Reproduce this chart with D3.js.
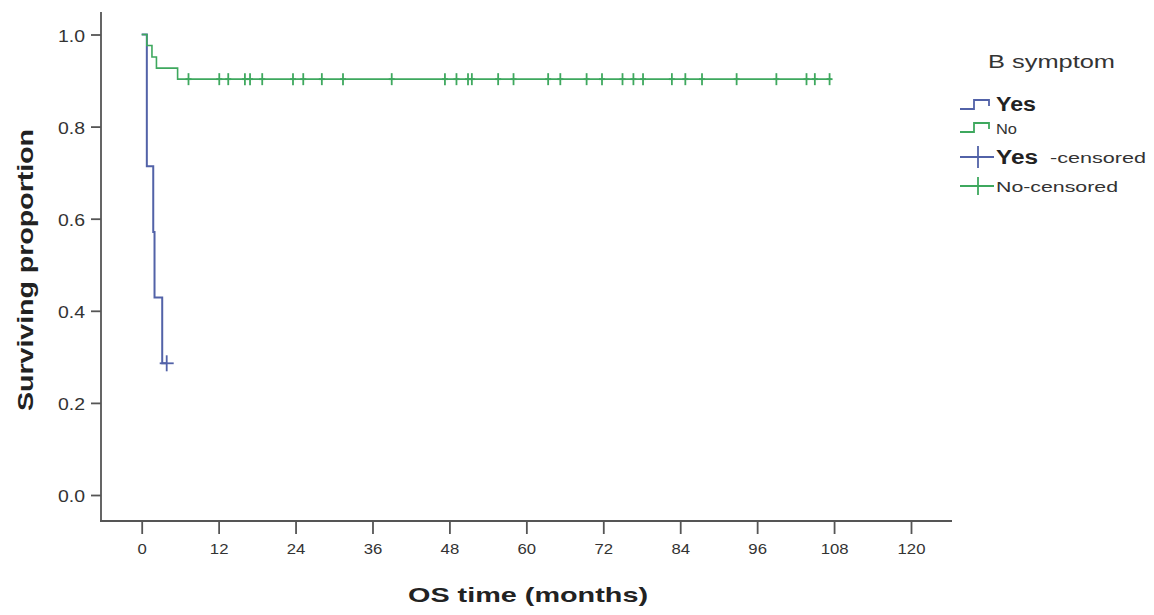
<!DOCTYPE html>
<html>
<head>
<meta charset="utf-8">
<script src="https://cdn.jsdelivr.net/npm/d3@7/dist/d3.min.js"></script>
<style>
  html, body { margin: 0; padding: 0; background: #fff; }
  svg { display: block; font-family: "Liberation Sans", Arial, sans-serif; }
</style>
</head>
<body>
<svg id="chart" width="1154" height="615"></svg>
<script>
// ---------- data ----------
const timeTicks = [0, 12, 24, 36, 48, 60, 72, 84, 96, 108, 120];
const propTicks = [0.0, 0.2, 0.4, 0.6, 0.8, 1.0];

// B symptom = Yes
const yesTimes = [0, 0.8, 1.8, 2.0, 3.2];
const yesSurv  = [1.0, 0.714, 0.571, 0.429, 0.286];
const yesEnd = 3.9;
const yesCensored = [3.9];

// B symptom = No
const noTimes = [0, 0.8, 1.6, 2.3, 5.6];
const noSurv  = [1.0, 0.976, 0.951, 0.927, 0.903];
const noEnd = 107.6;
const noCensored = [7.3, 12.1, 13.5, 16.1, 16.9, 18.8, 23.6, 25.2, 28.1, 31.4,
  39.0, 47.3, 49.1, 50.9, 51.5, 55.6, 58.0, 63.4, 65.3, 69.4, 71.8, 75.0, 76.7,
  78.2, 82.7, 84.8, 87.4, 92.8, 99.0, 103.7, 105.0, 107.3];

const legendTitle = "B symptom";
const legendLabels = ["Yes", "No", "Yes", "No-censored"];

// ---------- styles ----------
const blue = "#5262a8";
const green = "#3ea85e";
const axisColor = "#555";

const svg = d3.select("#chart");

const x = d3.scaleLinear().domain([0, 120]).range([141.7, 911]);
const y = d3.scaleLinear().domain([0, 1]).range([495, 34.5]);

const axisX0 = 100, axisX1 = 952, axisY = 521, axisTop = 12, yAxisX = 101;

// axes lines
svg.append("line").attr("x1", yAxisX).attr("x2", yAxisX).attr("y1", axisTop).attr("y2", axisY + 1)
  .attr("stroke", axisColor).attr("stroke-width", 1.8);
svg.append("line").attr("x1", axisX0).attr("x2", axisX1).attr("y1", axisY).attr("y2", axisY)
  .attr("stroke", axisColor).attr("stroke-width", 1.8);

// y axis
const gy = svg.append("g").attr("transform", `translate(${yAxisX},0)`)
  .call(d3.axisLeft(y).tickValues(propTicks).tickFormat(d3.format(".1f")).tickSize(10).tickPadding(6).tickSizeOuter(0));
gy.select(".domain").remove();
gy.selectAll(".tick line").attr("stroke", axisColor).attr("stroke-width", 1.8);
gy.selectAll(".tick text").attr("fill", "#333").attr("font-size", 16).attr("dy", "0.42em")
  .attr("font-family", "Liberation Sans, Arial, sans-serif")
  .attr("textLength", 27).attr("lengthAdjust", "spacingAndGlyphs");

// x axis
const gx = svg.append("g").attr("transform", `translate(0,${axisY})`)
  .call(d3.axisBottom(x).tickValues(timeTicks).tickSize(13).tickPadding(9).tickSizeOuter(0));
gx.select(".domain").remove();
gx.selectAll(".tick line").attr("stroke", axisColor).attr("stroke-width", 1.8);
gx.selectAll(".tick text").attr("fill", "#333").attr("font-size", 15)
  .attr("font-family", "Liberation Sans, Arial, sans-serif")
  .each(function(d) {
    const n = String(d).length;
    d3.select(this).attr("textLength", n * 9.3).attr("lengthAdjust", "spacingAndGlyphs");
  });

// axis titles
svg.append("text").attr("x", 528).attr("y", 602).attr("text-anchor", "middle")
  .attr("font-weight", "bold").attr("font-size", 21).attr("fill", "#222")
  .attr("textLength", 240).attr("lengthAdjust", "spacingAndGlyphs")
  .text("OS time (months)");
svg.append("text").attr("transform", "translate(33,270) rotate(-90)").attr("text-anchor", "middle")
  .attr("font-weight", "bold").attr("font-size", 22).attr("fill", "#222")
  .attr("textLength", 282).attr("lengthAdjust", "spacingAndGlyphs")
  .text("Surviving proportion");

// ---------- curves ----------
function survAt(times, surv, t) {
  let s = surv[0];
  for (let i = 0; i < times.length; i++) if (times[i] <= t) s = surv[i];
  return s;
}
const stepLine = d3.line().x(d => x(d[0])).y(d => y(d[1])).curve(d3.curveStepAfter);

function drawCurve(times, surv, end, censored, color, width, mh, mw) {
  const pts = times.map((t, i) => [t, surv[i]]);
  pts.push([end, surv[surv.length - 1]]);
  svg.append("path").attr("d", stepLine(pts)).attr("fill", "none")
    .attr("stroke", color).attr("stroke-width", width);
  const g = svg.append("g");
  censored.forEach(t => {
    const cx = x(t), cy = y(survAt(times, surv, t));
    g.append("line").attr("x1", cx).attr("x2", cx).attr("y1", cy - mh).attr("y2", cy + mh)
      .attr("stroke", color).attr("stroke-width", 1.8);
    g.append("line").attr("x1", cx - mw).attr("x2", cx + mw).attr("y1", cy).attr("y2", cy)
      .attr("stroke", color).attr("stroke-width", 1.8);
  });
}
drawCurve(yesTimes, yesSurv, yesEnd, yesCensored, blue, 2, 8, 7);
drawCurve(noTimes, noSurv, noEnd, noCensored, green, 1.6, 6, 3);

// ---------- legend ----------
const lg = svg.append("g");
lg.append("text").attr("x", 988).attr("y", 68).attr("font-size", 18).attr("fill", "#333")
  .attr("textLength", 127).attr("lengthAdjust", "spacingAndGlyphs").text(legendTitle);

function stepSymbol(yLow, yHigh, color) {
  lg.append("path")
    .attr("d", `M960,${yLow} H974 V${yHigh} H989 V${yHigh + 6}`)
    .attr("fill", "none").attr("stroke", color).attr("stroke-width", 1.8);
}
function crossSymbol(cy, h, color) {
  lg.append("line").attr("x1", 960).attr("x2", 994).attr("y1", cy).attr("y2", cy)
    .attr("stroke", color).attr("stroke-width", 1.8);
  lg.append("line").attr("x1", 978).attr("x2", 978).attr("y1", cy - h).attr("y2", cy + h)
    .attr("stroke", color).attr("stroke-width", 1.8);
}
stepSymbol(109, 100, blue);
lg.append("text").attr("x", 996).attr("y", 111).attr("font-size", 20).attr("font-weight", "bold")
  .attr("fill", "#222").attr("textLength", 40).attr("lengthAdjust", "spacingAndGlyphs").text(legendLabels[0]);

stepSymbol(132, 123, green);
lg.append("text").attr("x", 996).attr("y", 134).attr("font-size", 15)
  .attr("fill", "#333").attr("textLength", 21).attr("lengthAdjust", "spacingAndGlyphs").text(legendLabels[1]);

crossSymbol(157, 11, blue);
lg.append("text").attr("x", 996).attr("y", 164).attr("font-size", 20).attr("font-weight", "bold")
  .attr("fill", "#222").attr("textLength", 42).attr("lengthAdjust", "spacingAndGlyphs").text(legendLabels[2]);
lg.append("text").attr("x", 1050).attr("y", 163).attr("font-size", 15)
  .attr("fill", "#333").attr("textLength", 96).attr("lengthAdjust", "spacingAndGlyphs").text("-censored");

crossSymbol(186, 9, green);
lg.append("text").attr("x", 996).attr("y", 192).attr("font-size", 15)
  .attr("fill", "#333").attr("textLength", 122).attr("lengthAdjust", "spacingAndGlyphs").text(legendLabels[3]);
</script>
</body>
</html>
